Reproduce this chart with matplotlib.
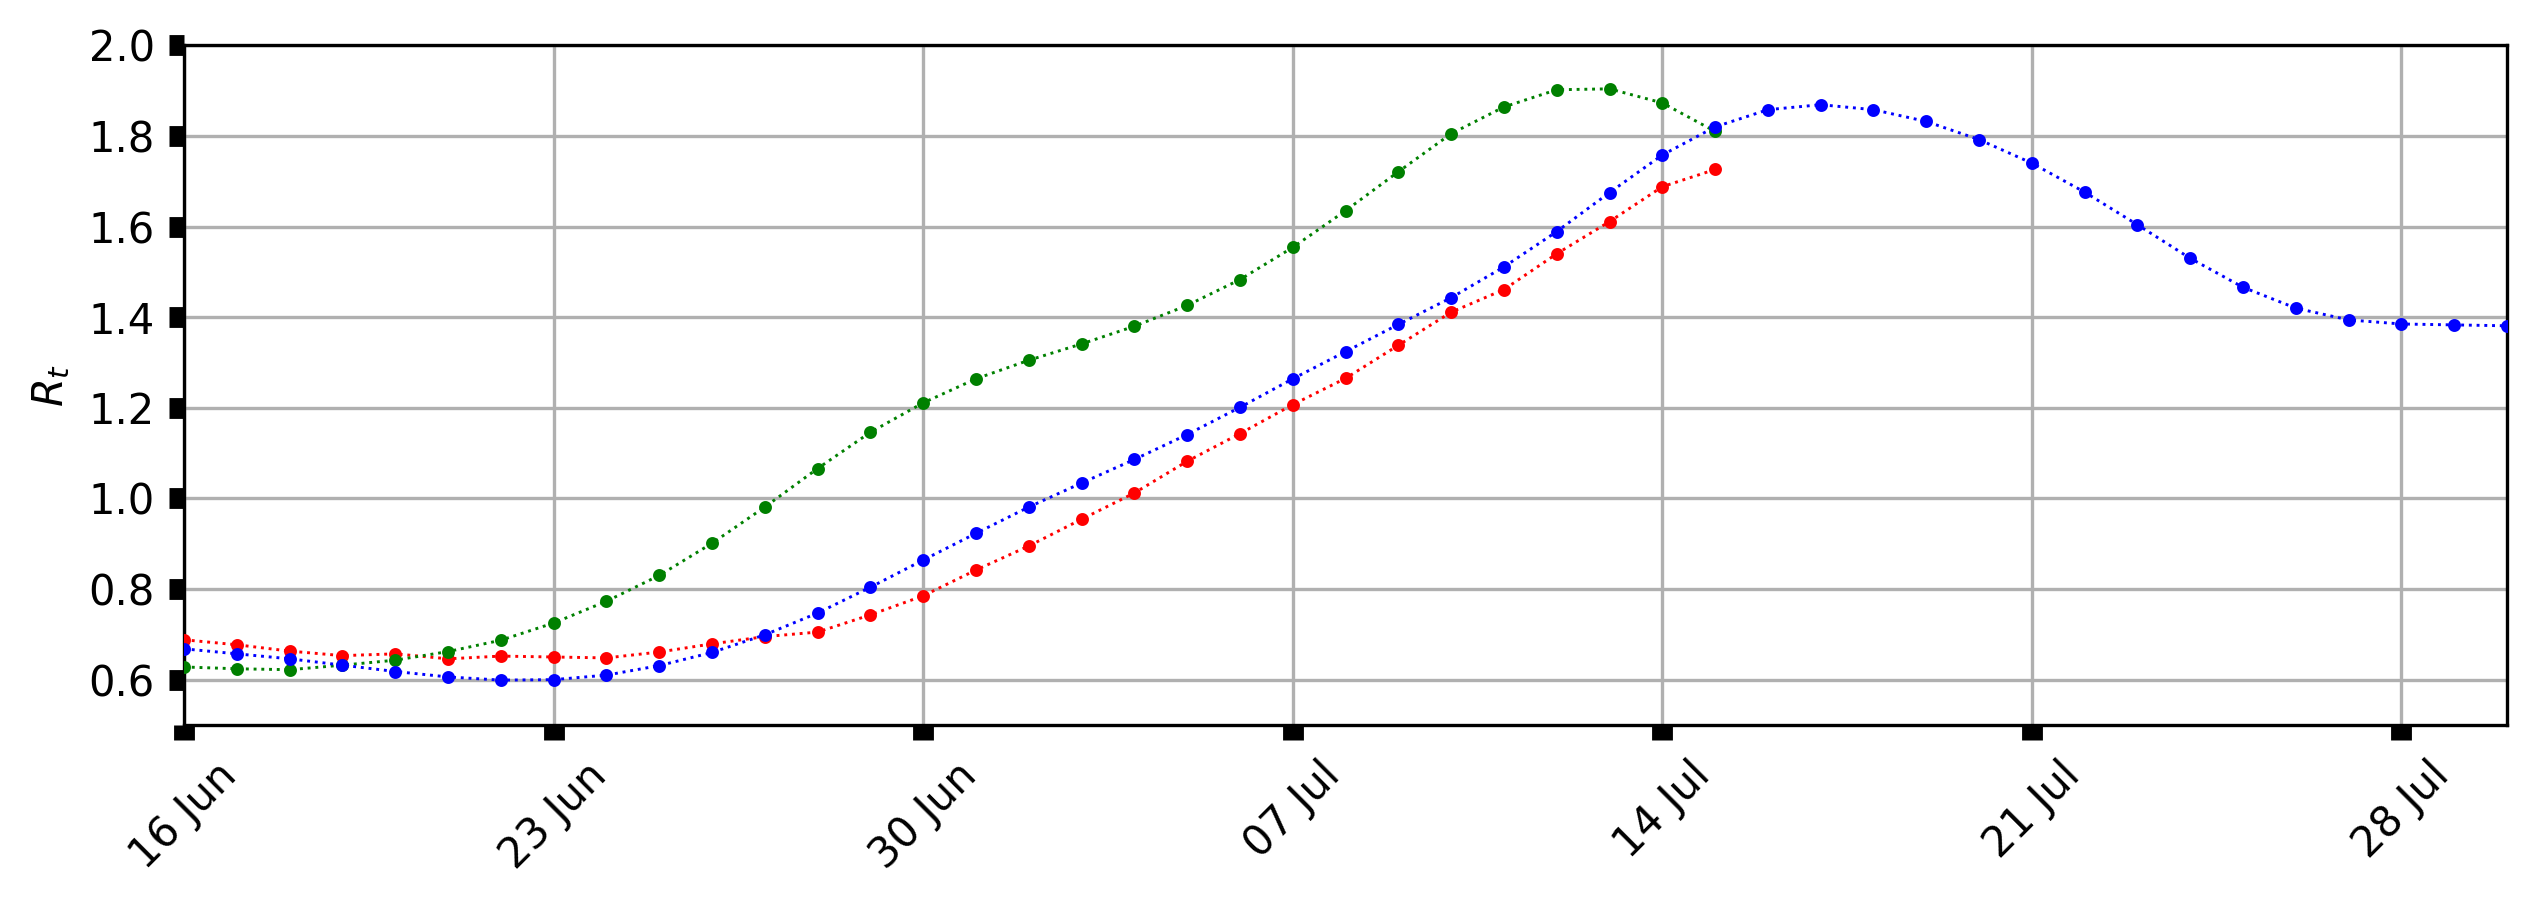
import numpy as np
import pandas as pd
import matplotlib
matplotlib.use("Agg")
import matplotlib.pyplot as plt
import matplotlib.dates as mdates

# Rt estimates, one value per day starting 16 Jun
start = "2020-06-16"

rt_red = [0.688, 0.677, 0.663, 0.653, 0.657, 0.646, 0.652, 0.650, 0.648, 0.661,
          0.679, 0.695, 0.705, 0.743, 0.785, 0.842, 0.895, 0.954, 1.012, 1.082,
          1.143, 1.207, 1.265, 1.338, 1.411, 1.461, 1.540, 1.611, 1.688, 1.726]

rt_green = [0.628, 0.624, 0.622, 0.632, 0.643, 0.662, 0.687, 0.725, 0.773, 0.830,
            0.901, 0.981, 1.066, 1.146, 1.211, 1.264, 1.305, 1.341, 1.380, 1.426,
            1.483, 1.554, 1.635, 1.721, 1.805, 1.864, 1.902, 1.904, 1.873, 1.810]

rt_blue = [0.668, 0.657, 0.646, 0.632, 0.618, 0.606, 0.599, 0.600, 0.610, 0.631,
           0.660, 0.699, 0.747, 0.804, 0.864, 0.923, 0.981, 1.034, 1.086, 1.141,
           1.201, 1.264, 1.324, 1.384, 1.443, 1.511, 1.589, 1.675, 1.758, 1.820,
           1.858, 1.869, 1.858, 1.832, 1.792, 1.740, 1.676, 1.604, 1.530, 1.466,
           1.420, 1.394, 1.385, 1.383, 1.381]

dates_red = pd.date_range(start, periods=len(rt_red), freq="D")
dates_green = pd.date_range(start, periods=len(rt_green), freq="D")
dates_blue = pd.date_range(start, periods=len(rt_blue), freq="D")

# Plot
fig, ax = plt.subplots(figsize=(2539 / 300, 907 / 300), dpi=300)
fig.subplots_adjust(left=0.0725, right=0.9874, top=0.950, bottom=0.2007)

ax.plot(dates_red, rt_red, ":o", color="r", lw=0.7, ms=2.1, zorder=3)
ax.plot(dates_green, rt_green, ":o", color="g", lw=0.7, ms=2.1, zorder=3)
ax.plot(dates_blue, rt_blue, ":o", color="b", lw=0.7, ms=2.1, zorder=3)

ax.set_ylim(0.5, 2.0)
ax.set_xlim(dates_blue[0], dates_blue[-1])
ax.set_xticks(dates_blue[::7])
ax.xaxis.set_major_formatter(mdates.DateFormatter("%d %b"))
plt.setp(ax.get_xticklabels(), rotation=45)

ax.set_ylabel("$R_t$")
ax.grid(True, color="#b0b0b0", lw=0.8)
ax.tick_params(length=3.5, width=5)

fig.savefig("out.png", dpi=300)
